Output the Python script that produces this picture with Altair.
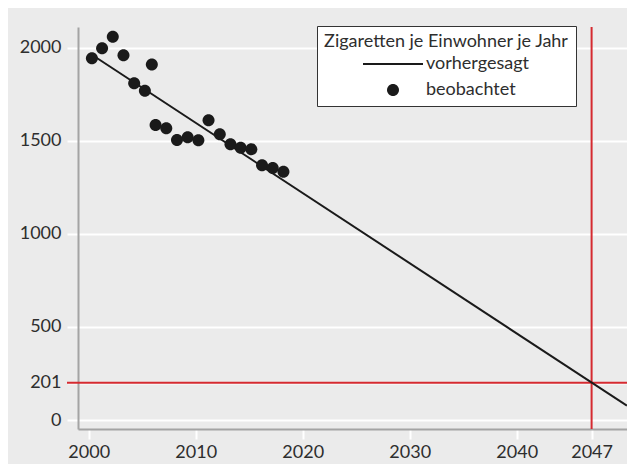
import altair as alt
import pandas as pd

# observed cigarettes per inhabitant per year
obs_year = [2000.3, 2001.25, 2002.25, 2003.25, 2004.25, 2005.25, 2005.9, 2006.25,
            2007.25, 2008.25, 2009.25, 2010.25, 2011.2, 2012.25, 2013.25, 2014.2,
            2015.2, 2016.2, 2017.2, 2018.2]
obs_value = [1943, 1997, 2059, 1959, 1809, 1769, 1909, 1585, 1567, 1504,
             1519, 1503, 1610, 1535, 1481, 1463, 1454, 1368, 1354, 1334]
# predicted trend line (end points)
pred_year = [2000.3, 2050.3]
pred_value = [1962, 77]
# target marks
target_year = [2047]
target_value = [201]
x_ticks = [2000, 2010, 2020, 2030, 2040, 2047]
y_ticks = [0, 201, 500, 1000, 1500, 2000]
series = ["vorhergesagt", "beobachtet"]
legend_title = "Zigaretten je Einwohner je Jahr"

obs = pd.DataFrame({"jahr": obs_year, "wert": obs_value, "serie": "beobachtet"})
pred = pd.DataFrame({"jahr": pred_year, "wert": pred_value})
hline = pd.DataFrame({"wert": target_value})
vline = pd.DataFrame({"jahr": target_year})

W, H = 549, 402
INK = "#1a1a1a"
RED = "#d52a30"
TXT = "#2e2e2e"

xscale = alt.Scale(domain=[1999.0, 1999.0 + W / 10.70], nice=False, zero=False)
yscale = alt.Scale(domain=[-48, 2111], nice=False, zero=False)

xaxis = alt.Axis(values=x_ticks, format="d", grid=False, title=None,
                 tickColor="white", tickWidth=2, tickSize=10,
                 domainColor="#a4a4a4", domainWidth=2,
                 labelFontSize=18, labelColor=TXT, labelPadding=4)
yaxis = alt.Axis(values=y_ticks, format="d", grid=True, title=None,
                 gridColor="white", gridWidth=2,
                 tickColor="white", tickWidth=2, tickSize=11,
                 domainColor="#a4a4a4", domainWidth=2,
                 labelFontSize=18, labelColor=TXT, labelPadding=6)

base_x = alt.X("jahr:Q", scale=xscale, axis=xaxis)
base_y = alt.Y("wert:Q", scale=yscale, axis=yaxis)

# symbol paths in the unit square, scaled by sqrt(size)/2 = 30 px
SYM_SIZE = 3600
line_path = "M-1,-0.034H1V0.034H-1Z"
circle_path = "M-0.2,0A0.2,0.2,0,1,1,0.2,0A0.2,0.2,0,1,1,-0.2,0Z"

h_rule = alt.Chart(hline).mark_rule(color=RED, strokeWidth=2).encode(
    y=alt.Y("wert:Q", scale=yscale, axis=yaxis),
    x=alt.value(-11), x2=alt.value(W))
v_rule = alt.Chart(vline).mark_rule(color=RED, strokeWidth=2).encode(
    x=alt.X("jahr:Q", scale=xscale, axis=xaxis))
line = alt.Chart(pred).mark_line(color=INK, strokeWidth=2).encode(x=base_x, y=base_y)
points = alt.Chart(obs).mark_point(filled=True, color=INK, strokeWidth=0,
                                   size=SYM_SIZE, opacity=1).encode(
    x=base_x, y=base_y,
    shape=alt.Shape("serie:N",
                    scale=alt.Scale(domain=series, range=[line_path, circle_path]),
                    legend=alt.Legend(
                        title=legend_title, orient="none", legendX=239, legendY=-1,
                        direction="vertical",
                        fillColor="white", strokeColor="#333333",
                        padding=7, titleAnchor="middle", titleFontSize=18,
                        titleFontWeight="normal", titleColor=TXT, titlePadding=5,
                        titleLimit=500, labelLimit=300,
                        labelFontSize=18, labelColor=TXT,
                        symbolSize=SYM_SIZE, symbolStrokeWidth=0,
                        symbolFillColor=INK, symbolOpacity=1,
                        symbolOffset=0, labelOffset=3,
                        clipHeight=16, rowPadding=8)))

chart = alt.layer(h_rule, v_rule, line, points).properties(
    width=W, height=H,
    padding={"left": 70, "top": 19, "right": 0, "bottom": 35},
    background="#ebebeb",
    autosize=alt.AutoSizeParams(type="none"),
).configure(font="Lato").configure_view(strokeWidth=0)

chart.save("out.html", embed_options={"renderer": "svg", "actions": False})
